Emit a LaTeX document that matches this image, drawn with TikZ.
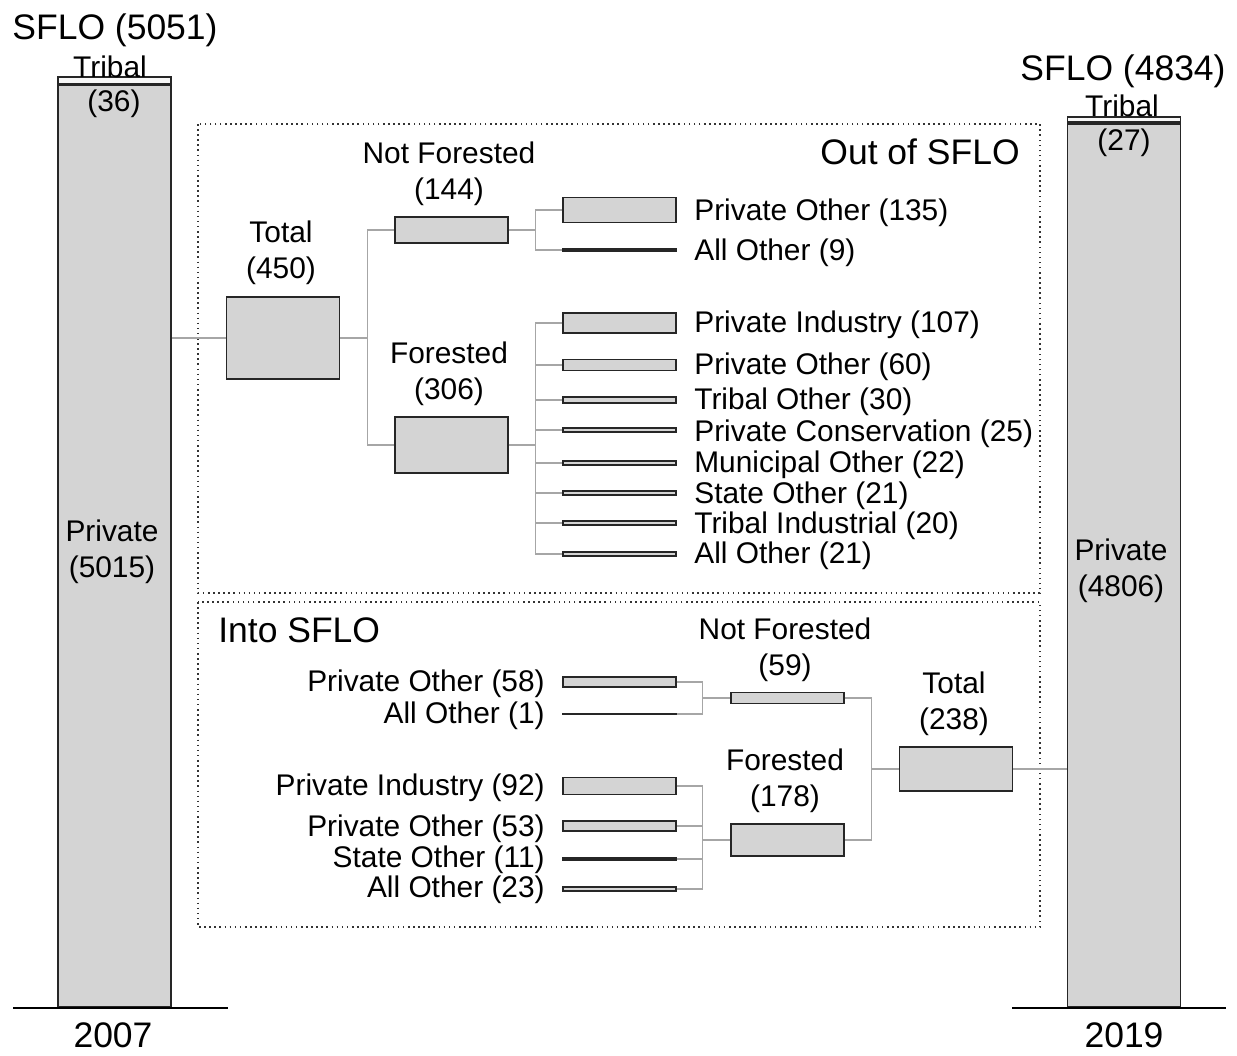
\documentclass[tikz,border=0pt]{standalone}
\usepackage{fontspec}
\setmainfont{Liberation Sans}
\usetikzlibrary{calc}

\definecolor{barfill}{HTML}{D4D4D4}
\definecolor{linkgray}{HTML}{A6A6A6}

\begin{document}
\begin{tikzpicture}[x=0.02cm, y=-0.02cm,
  bar/.style={draw=black!85, line width=1pt, fill=barfill, inner sep=0pt,
              minimum width=2.26cm, minimum height=#1*0.00368cm},
  tribe/.style={draw=black!85, line width=1pt, fill=gray!6, inner sep=0pt,
              minimum width=2.26cm, minimum height=#1*0.00368cm},
  link/.style={draw=linkgray, line width=0.6pt},
  frame/.style={draw=black!80, dotted, line width=0.9pt},
  ground/.style={line width=1.4pt},
  lbl/.style={font=\fontsize{17}{20.5}\selectfont, align=center, inner sep=0pt,
              yshift=-1.6pt},
  big/.style={font=\fontsize{20.2}{24}\selectfont, inner sep=0pt},
  leaf/.style={lbl, anchor=west},
  rleaf/.style={lbl, anchor=east}
]
  \useasboundingbox (0,0) rectangle (1237,1055);

  % Stock bars, 2007 (left) and 2019 (right)
  \node[bar=5015, anchor=south] at (114.5,1008) (pv07) {};
  \node[tribe=36, anchor=south] at (pv07.north) (tb07) {};
  \node[bar=4806, anchor=south] at (1124,1008)  (pv19) {};
  \node[tribe=27, anchor=south] at (pv19.north) (tb19) {};

  \node[big] at (115,30)   (sf07)  {SFLO (5051)};
  \node[lbl] at (110,64)   (tt07)  {Tribal};
  \node[lbl] at (114,101)  (tn07)  {(36)};
  \node[lbl] at (112,549)  (pp07)  {Private\\(5015)};
  \node[big] at (113,1035) (yr07)  {2007};

  \node[big] at (1123,71)  (sf19)  {SFLO (4834)};
  \node[lbl] at (1122,103) (tt19)  {Tribal};
  \node[lbl] at (1124,140) (tn19)  {(27)};
  \node[lbl] at (1121,568) (pp19)  {Private\\(4806)};
  \node[big] at (1124,1035) (yr19) {2019};

  \draw[ground] ($(pv07.south)+(-101.5,0)$) -- ($(pv07.south)+(113.5,0)$);
  \draw[ground] ($(pv19.south)+(-112,0)$)   -- ($(pv19.south)+(102,0)$);

  % Frames
  \draw[frame] (198,124) rectangle (1040,593);
  \draw[frame] (198,602) rectangle (1040,927);
  \node[big, anchor=east] at (1020,152) (outt) {Out of SFLO};
  \node[big, anchor=west] at (218,630)  (into) {Into SFLO};

  % Out of SFLO tree
  \node[bar=450] at (283,338)   (tot1) {};
  \node[lbl]     at (281,250)   (tot1l) {Total\\(450)};
  \node[bar=144] at (451.5,230) (nf1) {};
  \node[lbl]     at (449,171)   (nf1l) {Not Forested\\(144)};
  \node[bar=306] at (451.5,445) (fo1) {};
  \node[lbl]     at (449,371)   (fo1l) {Forested\\(306)};

  \node[bar=135] at (619.5,210) (a1) {};
  \node[bar=9]   at (619.5,250) (a2) {};
  \node[bar=107] at (619.5,323) (a3) {};
  \node[bar=60]  at (619.5,365) (a4) {};
  \node[bar=30]  at (619.5,400) (a5) {};
  \node[bar=25]  at (619.5,430) (a6) {};
  \node[bar=22]  at (619.5,463) (a7) {};
  \node[bar=21]  at (619.5,493) (a8) {};
  \node[bar=20]  at (619.5,523) (a9) {};
  \node[bar=21]  at (619.5,554) (a10) {};

  \node[leaf] at (694,210) (a1l)  {Private Other (135)};
  \node[leaf] at (694,250) (a2l)  {All Other (9)};
  \node[leaf] at (694,322) (a3l)  {Private Industry (107)};
  \node[leaf] at (694,364) (a4l)  {Private Other (60)};
  \node[leaf] at (694,399) (a5l)  {Tribal Other (30)};
  \node[leaf] at (694,431) (a6l)  {Private Conservation (25)};
  \node[leaf] at (694,462) (a7l)  {Municipal Other (22)};
  \node[leaf] at (694,493) (a8l)  {State Other (21)};
  \node[leaf] at (694,523) (a9l)  {Tribal Industrial (20)};
  \node[leaf] at (694,553) (a10l) {All Other (21)};

  \draw[link] (pv07.east |- tot1.west) -- (tot1.west);
  \draw[link] (tot1.east) -- ++(27,0) coordinate (j1);
  \draw[link] (nf1.west) -| (j1) |- (fo1.west);
  \draw[link] (nf1.east) -- ++(27,0) coordinate (j2);
  \draw[link] (a1.west) -| (j2) |- (a2.west);
  \draw[link] (fo1.east) -- ++(27,0) coordinate (j3);
  \draw[link] (a3.west) -| (j3) |- (a10.west);
  \draw[link] (j3) |- (a4.west);
  \draw[link] (j3) |- (a5.west);
  \draw[link] (j3) |- (a6.west);
  \draw[link] (j3) |- (a7.west);
  \draw[link] (j3) |- (a8.west);
  \draw[link] (j3) |- (a9.west);

  % Into SFLO tree
  \node[bar=58] at (619.5,682) (b1) {};
  \node[bar=1]  at (619.5,714) (b2) {};
  \node[bar=92] at (619.5,786) (b3) {};
  \node[bar=53] at (619.5,826) (b4) {};
  \node[bar=11] at (619.5,859) (b5) {};
  \node[bar=23] at (619.5,889) (b6) {};

  \node[rleaf] at (545,681) (b1l) {Private Other (58)};
  \node[rleaf] at (545,713) (b2l) {All Other (1)};
  \node[rleaf] at (545,785) (b3l) {Private Industry (92)};
  \node[rleaf] at (545,826) (b4l) {Private Other (53)};
  \node[rleaf] at (545,857) (b5l) {State Other (11)};
  \node[rleaf] at (545,887) (b6l) {All Other (23)};

  \node[bar=59]  at (787.5,698) (nf2) {};
  \node[lbl]     at (785,647)   (nf2l) {Not Forested\\(59)};
  \node[bar=178] at (787.5,840) (fo2) {};
  \node[lbl]     at (785,778)   (fo2l) {Forested\\(178)};
  \node[bar=238] at (956,769)   (tot2) {};
  \node[lbl]     at (954,701)   (tot2l) {Total\\(238)};

  \draw[link] (nf2.west) -- ++(-28,0) coordinate (k1);
  \draw[link] (b1.east) -| (k1) |- (b2.east);
  \draw[link] (fo2.west) -- ++(-28,0) coordinate (k2);
  \draw[link] (b3.east) -| (k2) |- (b6.east);
  \draw[link] (k2) |- (b4.east);
  \draw[link] (k2) |- (b5.east);
  \draw[link] (tot2.west) -- ++(-27,0) coordinate (k3);
  \draw[link] (nf2.east) -| (k3) |- (fo2.east);
  \draw[link] (tot2.east) -- (tot2.east -| pv19.west);

\end{tikzpicture}
\end{document}
